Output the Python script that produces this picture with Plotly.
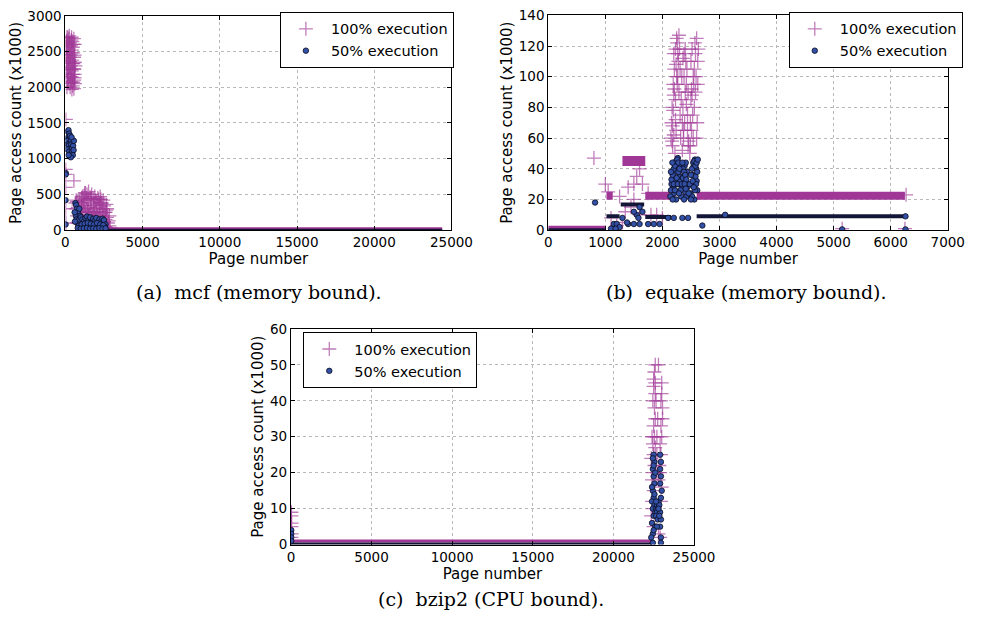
import plotly.graph_objects as go

# ---------------- (a) mcf (memory bound) ----------------
mcf_full_x = [80, 150, 220, 300, 380, 450, 520, 100, 180, 260, 340, 420, 500, 560, 120, 200, 280, 360,
              440, 520, 580, 90, 170, 250, 330, 410, 490, 570, 140, 230, 310, 390, 470, 550, 600, 60,
              650, 620, 30, 550, 20, 20, 20, 20, 30,
              100, 250, 400, 550, 70, 200, 350, 480, 600, 110, 230, 390, 600, 160, 310, 470, 610, 80,
              210, 370, 540, 130, 270, 440, 600, 190, 350, 510, 100, 420,
              650, 700, 750, 800, 850, 900, 950, 1000, 1050, 1100, 1150, 1200, 1250, 1300, 1350, 1400,
              1450, 1500, 1550, 1600, 1650, 1700, 1750, 1800, 1850, 1900, 1950, 2000, 2050, 2100, 2150,
              2200, 2250, 2300, 2350, 2400, 2450, 2500, 2550, 2600, 2650, 2700, 2750, 1000, 1200, 1400,
              1600, 1800, 2000, 2200, 2400, 2600, 1100, 1300, 1500, 1700, 1900, 2100, 2300, 700, 900,
              1250, 2850, 2900, 1350, 1550, 1750, 1950, 2150, 2350, 2550,
              750, 1150, 1450, 1850, 2250, 2650, 2850, 800, 1050, 1350, 1650, 1950, 2250, 2450, 2700,
              2800, 1100, 1300, 1500, 1700, 1900, 2100, 2300, 2500, 900, 1000, 1200, 1400, 1600, 1800,
              2000, 2200, 2400, 2600]
mcf_full_y = [2650, 2700, 2680, 2620, 2660, 2640, 2600, 2550, 2500, 2580, 2450, 2520, 2480, 2420, 2400,
              2350, 2420, 2300, 2380, 2330, 2250, 2250, 2200, 2280, 2150, 2230, 2180, 2100, 2100, 2050,
              2000, 2080, 2020, 1980, 2180, 2450, 2300, 2050, 1550, 690, 850, 780, 600, 300, 100,
              2700, 2720, 2700, 2680, 2600, 2620, 2580, 2560, 2600, 2500, 2460, 2480, 2450, 2380, 2360,
              2330, 2350, 2330, 2270, 2250, 2260, 2180, 2160, 2140, 2130, 2120, 2060, 2070, 2000, 1970,
              380, 300, 200, 100, 350, 250, 150, 380, 300, 200, 420, 480, 350, 250, 150, 500,
              420, 320, 220, 460, 380, 280, 180, 440, 350, 250, 150, 400, 320, 220, 430,
              350, 260, 160, 380, 300, 200, 340, 250, 150, 280, 180, 100, 80, 60, 90,
              70, 60, 80, 60, 80, 50, 470, 520, 540, 500, 470, 450, 430, 420, 400,
              520, 60, 30, 40, 60, 110, 90, 120, 100, 40,
              400, 340, 260, 300, 380, 360, 200, 320, 450, 440, 440, 420, 470, 420, 300,
              130, 100, 130, 110, 140, 110, 130, 100, 120, 120, 250, 270, 300, 250, 240,
              260, 200, 240, 250]
mcf_half_x = [150, 200, 250, 180, 230, 300, 120, 270, 350, 160, 210, 320, 380, 140, 250, 290, 420, 450,
              500, 530, 480, 350, 200, 550, 400, 20, 20, 10, 10,
              650, 700, 750, 800, 680, 720, 780, 850, 900, 950, 1000, 1100, 1200, 1300, 1400, 1500,
              1600, 1700, 1800, 1900, 2000, 2100, 2200, 2300, 2400, 2500, 2600, 1150, 1350, 1550,
              1750, 1950, 2150, 2350, 2550, 900, 600, 620, 1050, 1250, 1450, 1650, 1850, 2050, 2250,
              2450, 800, 1000, 1200, 1400, 1600, 1800, 2000, 2200, 2400, 2600]
mcf_half_y = [1380, 1400, 1350, 1300, 1280, 1320, 1250, 1220, 1250, 1200, 1180, 1150, 1200, 1130, 1100,
              1060, 1150, 1100, 1180, 1120, 1050, 1020, 1050, 1250, 1300, 800, 780, 420, 80,
              380, 350, 300, 250, 200, 150, 100, 60, 150, 200, 180, 150, 120, 170, 190, 140,
              180, 100, 160, 130, 170, 90, 150, 120, 160, 140, 80, 60, 50, 40,
              70, 40, 60, 30, 50, 300, 250, 120, 80, 90, 100, 90, 80, 100, 80,
              70, 30, 20, 25, 30, 20, 25, 20, 30, 20, 25]
mcf_full_band_x = [2800, 24400]
mcf_full_band_y = [20, 20]
mcf_half_band_x = [2700, 24400]
mcf_half_band_y = [0, 0]

# ---------------- (b) equake (memory bound) ----------------
eq_full_x = [800, 1000, 1050, 1250, 1400, 1500, 1550, 1600, 1650, 1500, 1450, 1350, 1600, 1800, 1900,
             2000, 1300, 1200, 1100, 1750, 6270, 5150, 6250,
             2180, 2200, 2160, 2190, 2230, 2210, 2250, 2240, 2270, 2260, 2290, 2300, 2280, 2230, 2170,
             2220, 2260, 2200, 2310, 2240,
             2150, 2170, 2190, 2210, 2230, 2250, 2270, 2290, 2310, 2320, 2200, 2180,
             2350, 2370, 2390, 2360, 2400, 2380, 2410, 2400, 2420, 2440, 2330, 2450, 2430, 2370,
             2340, 2360, 2380, 2420, 2450, 2440, 2460, 2350,
             2490, 2510, 2530, 2500, 2550, 2560, 2580, 2570, 2600, 2620, 2590, 2540, 2520, 2610, 2480,
             2500, 2520, 2540, 2560, 2580, 2600, 2620, 2630, 2490, 2510]
eq_full_y = [47, 30, 25, 22, 28, 30, 35, 40, 30, 20, 15, 12, 10, 10, 10,
             8, 5, 3, 8, 24, 23, 1, 1,
             55, 62, 70, 78, 85, 92, 100, 108, 115, 122, 127, 118, 110, 72, 58,
             50, 95, 88, 105, 65,
             60, 80, 95, 105, 118, 125, 100, 90, 75, 60, 115, 68,
             52, 60, 70, 80, 90, 100, 110, 118, 95, 75, 85, 55, 105, 65,
             100, 112, 115, 82, 90, 65, 58, 70,
             55, 65, 75, 85, 95, 105, 115, 122, 125, 110, 100, 60, 88, 70, 50,
             110, 118, 100, 80, 90, 60, 95, 118, 70, 92]
eq_half_x = [820, 1150, 1200, 1250, 1300, 1400, 1500, 1550, 1600, 1650, 1600, 1750, 1850, 1950, 2100,
             2200, 2350, 2450, 2700, 3100, 5150, 6260, 1100, 1180, 1380, 1500, 1580, 6260,
             2170, 2190, 2210, 2230, 2250, 2270, 2290, 2300, 2280, 2260, 2240, 2200, 2160, 2280,
             2330, 2350, 2370, 2390, 2410, 2430, 2440, 2420, 2400, 2360, 2380,
             2490, 2510, 2530, 2550, 2570, 2590, 2600, 2610, 2560, 2520, 2580,
             2140, 2150, 2160, 2180, 2200, 2220, 2240, 2260, 2280, 2300, 2310, 2320, 2150, 2175, 2200,
             2220, 2250, 2270, 2290, 2180,
             2340, 2360, 2380, 2400, 2420, 2440, 2460, 2350, 2390, 2410,
             2480, 2500, 2520, 2540, 2560, 2580, 2600, 2620, 2610, 2590, 2570, 2550, 2530, 2500]
eq_half_y = [18, 4, 4, 2, 8, 4, 4, 10, 15, 12, 4, 4, 4, 4, 8,
             8, 8, 8, 3, 10, 0.5, 0.5, 1, 1, 5, 12, 8, 9,
             22, 28, 32, 38, 44, 47, 42, 35, 30, 25, 20, 24, 30, 38,
             22, 28, 35, 42, 44, 38, 30, 22, 25, 40, 20,
             24, 30, 36, 42, 46, 40, 32, 26, 20, 22, 35,
             22, 26, 33, 36, 40, 42, 45, 46, 44, 40, 32, 26, 38, 44, 30,
             26, 34, 30, 24, 20,
             30, 34, 38, 36, 33, 28, 24, 44, 30, 27,
             30, 36, 40, 44, 45, 42, 44, 46, 38, 30, 26, 28, 32, 20]
eq_full_low_x = [0, 1000]
eq_full_low_y = [1.5, 1.5]
eq_full_mid_x = [1020, 1130, None, 1700, 2130, None, 2600, 6250]
eq_full_mid_y = [22.5, 22.5, None, 22.5, 22.5, None, 22.5, 22.5]
eq_full_high_x = [1300, 1700]
eq_full_high_y = [45, 45]
eq_half_low_x = [0, 1000]
eq_half_low_y = [0.3, 0.3]
eq_half_mid_x = [1020, 1250, None, 1700, 2150, None, 2600, 6250]
eq_half_mid_y = [9, 9, None, 8.5, 8.5, None, 9, 9]
eq_half_high_x = [1270, 1680]
eq_half_high_y = [16.8, 16.8]

# ---------------- (c) bzip2 (CPU bound) ----------------
bz_full_x = [30, 30, 40, 30, 50, 30,
             22600, 22800, 22500, 22600, 22550, 22600, 22500, 22550, 22450, 22500, 22550, 22450, 22400,
             22500, 22400, 22450, 22350, 22500, 23000, 23000, 22950, 23050, 22950, 23000, 22900, 22950,
             22850, 22900, 22800, 23000, 22800, 22900, 22700, 22750, 22650, 22600, 22700,
             22550, 22500, 22450, 22400, 22350, 22600, 23050, 22700, 22950]
bz_full_y = [9, 8, 6, 5, 3, 2,
             50, 50, 44, 42, 38, 35, 33, 30, 28, 25, 22, 20, 18,
             15, 12, 10, 8, 5, 45, 42, 40, 38, 33, 30, 28, 25,
             22, 20, 18, 16, 3, 2, 25, 35, 40, 45, 30,
             48, 46, 40, 30, 24, 27, 35, 20, 12]
bz_half_x = [20, 20, 20, 20,
             22500, 22550, 22450, 22500, 22550, 22450, 22500, 22400, 22550, 22450, 22500, 22400, 22600,
             22450, 22350, 22600, 22650, 22700, 22750, 22700, 22650, 22750, 22800, 22900, 22950, 22900,
             22950, 22900, 23000, 22950, 22850, 22900, 22950, 22900, 22950, 22950, 22450,
             22450, 22500, 22600, 22400, 22550, 22650, 22800, 22850, 22700, 22500]
bz_half_y = [4, 3, 2, 1,
             25, 23, 21, 19, 17, 15, 13, 12, 11, 10, 8, 6, 5,
             3, 2, 9, 10, 11, 10, 9, 8, 7, 12, 25, 23, 21,
             19, 17, 15, 13, 11, 9, 7, 5, 2, 0.5, 0.5,
             24, 22, 20, 16, 14, 12, 10, 8, 5, 4]
bz_full_band_x = [0, 22400]
bz_full_band_y = [1, 1]
bz_half_band_x = [0, 22400]
bz_half_band_y = [0.2, 0.2]

FULL_NAME = "100% execution"
HALF_NAME = "50% execution"

MAG = "rgb(160,55,150)"
MAG_T = "rgba(160,55,150,0.65)"
NAVY = "rgb(20,22,55)"
BLUE = "rgb(50,80,165)"

fig = go.Figure()


def add_panel(xa, ya, legend, bands_full, bands_half, fx, fy, hx, hy):
    for bx, by, w in bands_full:
        fig.add_trace(go.Scatter(x=bx, y=by, mode="lines", line=dict(color=MAG, width=w),
                                 xaxis=xa, yaxis=ya, showlegend=False, hoverinfo="skip"))
    fig.add_trace(go.Scatter(x=fx, y=fy, mode="markers", name=FULL_NAME, legend=legend,
                             marker=dict(symbol="cross-thin", size=10, line=dict(color=MAG_T, width=1.3)),
                             xaxis=xa, yaxis=ya))
    for bx, by, w in bands_half:
        fig.add_trace(go.Scatter(x=bx, y=by, mode="lines", line=dict(color=NAVY, width=w),
                                 xaxis=xa, yaxis=ya, showlegend=False, hoverinfo="skip"))
    fig.add_trace(go.Scatter(x=hx, y=hy, mode="markers", name=HALF_NAME, legend=legend,
                             marker=dict(symbol="circle", size=5.5, color=BLUE,
                                         line=dict(color="rgb(10,10,30)", width=0.8)),
                             xaxis=xa, yaxis=ya))


add_panel("x", "y", "legend",
          [(mcf_full_band_x, mcf_full_band_y, 3)],
          [(mcf_half_band_x, mcf_half_band_y, 3)],
          mcf_full_x, mcf_full_y, mcf_half_x, mcf_half_y)
add_panel("x2", "y2", "legend2",
          [(eq_full_low_x, eq_full_low_y, 4), (eq_full_mid_x, eq_full_mid_y, 8),
           (eq_full_high_x, eq_full_high_y, 10)],
          [(eq_half_low_x, eq_half_low_y, 3), (eq_half_mid_x, eq_half_mid_y, 4),
           (eq_half_high_x, eq_half_high_y, 4)],
          eq_full_x, eq_full_y, eq_half_x, eq_half_y)
add_panel("x3", "y3", "legend3",
          [(bz_full_band_x, bz_full_band_y, 3)],
          [(bz_half_band_x, bz_half_band_y, 3)],
          bz_full_x, bz_full_y, bz_half_x, bz_half_y)

tickfont = dict(family="DejaVu Sans", size=13.5, color="black")
titlefont = dict(family="DejaVu Sans", size=15, color="black")


def xax(domain, anchor, rng, dtick):
    return dict(domain=domain, anchor=anchor, range=rng, dtick=dtick, tick0=0, tickformat="d",
                showline=True, linecolor="black", linewidth=1, mirror="allticks",
                ticks="inside", ticklen=4, tickcolor="black",
                showgrid=True, gridcolor="#b8b8b8", griddash="dot", gridwidth=1,
                zeroline=False, tickfont=tickfont,
                title=dict(text="Page number", font=titlefont, standoff=0))


def yax(domain, anchor, rng, dtick):
    return dict(domain=domain, anchor=anchor, range=rng, dtick=dtick, tick0=0, tickformat="d",
                showline=True, linecolor="black", linewidth=1, mirror="allticks",
                ticks="inside", ticklen=4, tickcolor="black",
                showgrid=True, gridcolor="#b8b8b8", griddash="dot", gridwidth=1,
                zeroline=False, tickfont=tickfont,
                title=dict(text="Page access count (x1000)", font=titlefont, standoff=2))


legend_common = dict(bgcolor="white", bordercolor="black", borderwidth=1,
                     font=dict(family="DejaVu Sans", size=14.5, color="black"),
                     xanchor="left", yanchor="top", tracegroupgap=0, itemwidth=40)

fig.update_layout(
    width=995, height=626,
    margin=dict(l=0, r=0, t=0, b=0),
    paper_bgcolor="white", plot_bgcolor="white",
    xaxis=xax([0.0633, 0.4613], "y", [0, 25000], 5000),
    yaxis=yax([0.6358, 0.9872], "x", [0, 3000], 500),
    xaxis2=xax([0.5611, 0.9729], "y2", [0, 7000], 1000),
    yaxis2=yax([0.6358, 0.9880], "x2", [0, 140], 20),
    xaxis3=xax([0.2958, 0.7113], "y3", [0, 25000], 5000),
    yaxis3=yax([0.1203, 0.4740], "x3", [0, 60], 10),
    legend=dict(legend_common, x=283 / 995, y=0.9936),
    legend2=dict(legend_common, x=805 / 995, y=0.9936),
    legend3=dict(legend_common, x=307 / 995, y=0.4687),
    showlegend=True,
)

cap_font = dict(family="DejaVu Serif", size=19, color="black")
fig.add_annotation(text="(a)  mcf (memory bound).", xref="paper", yref="paper",
                   x=262 / 995, y=1 - 291 / 626, xanchor="center", yanchor="middle",
                   showarrow=False, font=cap_font)
fig.add_annotation(text="(b)  equake (memory bound).", xref="paper", yref="paper",
                   x=762 / 995, y=1 - 291 / 626, xanchor="center", yanchor="middle",
                   showarrow=False, font=cap_font)
fig.add_annotation(text="(c)  bzip2 (CPU bound).", xref="paper", yref="paper",
                   x=500 / 995, y=1 - 607 / 626, xanchor="center", yanchor="middle",
                   showarrow=False, font=cap_font)

fig.write_html("out.html")
